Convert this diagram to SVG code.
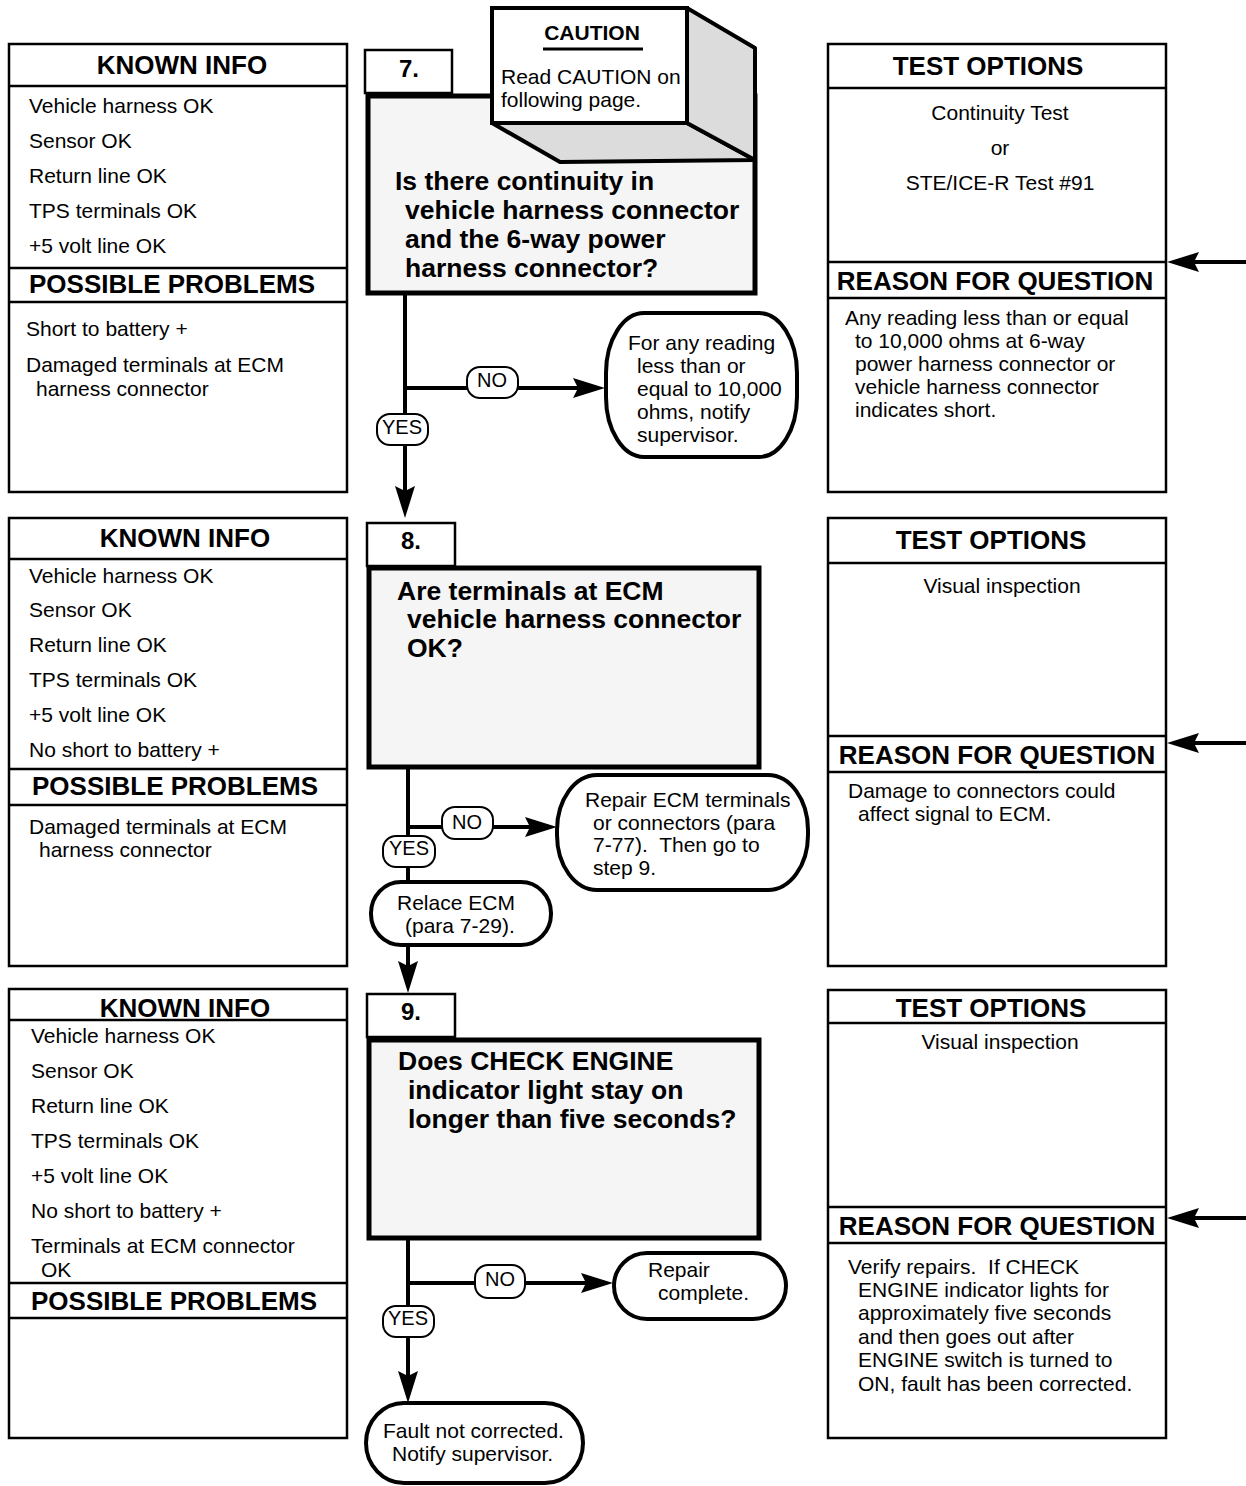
<svg xmlns="http://www.w3.org/2000/svg" width="1246" height="1486" viewBox="0 0 1246 1486">
<style>
.box{fill:#fff;stroke:#000;stroke-width:2.5}
.div{stroke:#000;stroke-width:2.5}
.qbox{fill:#f5f5f5;stroke:#000;stroke-width:5}
.num{fill:#fff;stroke:#000;stroke-width:2.5}
.term{fill:#fff;stroke:#000;stroke-width:4}
.lbl{fill:#fff;stroke:#000;stroke-width:2}
.conn{fill:none;stroke:#000;stroke-width:4}
.side{fill:#dcdcdc;stroke:#000;stroke-width:4;stroke-linejoin:round}
text{font-family:"Liberation Sans",Arial,Helvetica,sans-serif;font-size:21px;fill:#000}
.h{font-weight:bold;font-size:26px}
.q{font-weight:bold;font-size:26.5px}
.n{font-weight:bold;font-size:24px}
.c{text-anchor:middle}
.l{font-size:20px}
</style>
<defs>
<marker id="ah" viewBox="0 0 32 20" refX="22" refY="10" markerWidth="32" markerHeight="20" markerUnits="userSpaceOnUse" orient="auto">
<path d="M0,0 L32,10 L0,20 L5,10 z" fill="#000"/>
</marker>
</defs>

<!-- ===== Section 7 ===== -->
<g id="known7">
<rect class="box" x="9" y="44" width="338" height="448"/>
<line class="div" x1="9" y1="86" x2="347" y2="86"/>
<line class="div" x1="9" y1="268" x2="347" y2="268"/>
<line class="div" x1="9" y1="302" x2="347" y2="302"/>
<text class="h c" x="182" y="74">KNOWN INFO</text>
<text x="29" y="113">Vehicle harness OK</text>
<text x="29" y="148">Sensor OK</text>
<text x="29" y="183">Return line OK</text>
<text x="29" y="218">TPS terminals OK</text>
<text x="29" y="253">+5 volt line OK</text>
<text class="h" x="29" y="293">POSSIBLE PROBLEMS</text>
<text x="26" y="336">Short to battery +</text>
<text x="26" y="372">Damaged terminals at ECM</text>
<text x="36" y="396">harness connector</text>
</g>

<g id="step7">
<rect class="num" x="365" y="50" width="87" height="43"/>
<text class="n c" x="409" y="77">7.</text>
<rect class="qbox" x="368" y="96" width="387" height="197"/>
<text class="q" x="395" y="190">Is there continuity in</text>
<text class="q" x="405" y="219">vehicle harness connector</text>
<text class="q" x="405" y="248">and the 6-way power</text>
<text class="q" x="405" y="277">harness connector?</text>
</g>

<g id="caution">
<polygon class="side" points="492,123 560,162 755,160 687,123"/>
<polygon class="side" points="687,8 755,48 755,160 687,123"/>
<rect x="492" y="8" width="195" height="115" fill="#fff" stroke="#000" stroke-width="4"/>
<text class="c" x="592" y="40" style="font-weight:bold;font-size:21px">CAUTION</text>
<line x1="543" y1="49" x2="643" y2="49" stroke="#000" stroke-width="3"/>
<text x="501" y="84">Read CAUTION on</text>
<text x="501" y="107">following page.</text>
</g>

<g id="test7">
<rect class="box" x="828" y="44" width="338" height="448"/>
<line class="div" x1="828" y1="88" x2="1166" y2="88"/>
<line class="div" x1="828" y1="262" x2="1166" y2="262"/>
<line class="div" x1="828" y1="298" x2="1166" y2="298"/>
<text class="h c" x="988" y="75">TEST OPTIONS</text>
<text class="c" x="1000" y="120">Continuity Test</text>
<text class="c" x="1000" y="155">or</text>
<text class="c" x="1000" y="190">STE/ICE-R Test #91</text>
<text class="h c" x="995" y="290">REASON FOR QUESTION</text>
<text x="845" y="325">Any reading less than or equal</text>
<text x="855" y="348">to 10,000 ohms at 6-way</text>
<text x="855" y="371">power harness connector or</text>
<text x="855" y="394">vehicle harness connector</text>
<text x="855" y="417">indicates short.</text>
</g>

<g id="term7">
<rect class="term" x="606" y="313" width="191" height="144" rx="38" ry="60"/>
<text x="628" y="350">For any reading</text>
<text x="637" y="373">less than or</text>
<text x="637" y="396">equal to 10,000</text>
<text x="637" y="419">ohms, notify</text>
<text x="637" y="442">supervisor.</text>
</g>

<!-- ===== Section 8 ===== -->
<g id="known8">
<rect class="box" x="9" y="518" width="338" height="448"/>
<line class="div" x1="9" y1="559" x2="347" y2="559"/>
<line class="div" x1="9" y1="769" x2="347" y2="769"/>
<line class="div" x1="9" y1="805" x2="347" y2="805"/>
<text class="h c" x="185" y="547">KNOWN INFO</text>
<text x="29" y="583">Vehicle harness OK</text>
<text x="29" y="617">Sensor OK</text>
<text x="29" y="652">Return line OK</text>
<text x="29" y="687">TPS terminals OK</text>
<text x="29" y="722">+5 volt line OK</text>
<text x="29" y="757">No short to battery +</text>
<text class="h" x="32" y="795">POSSIBLE PROBLEMS</text>
<text x="29" y="834">Damaged terminals at ECM</text>
<text x="39" y="857">harness connector</text>
</g>

<g id="step8">
<rect class="num" x="367" y="523" width="88" height="43"/>
<text class="n c" x="411" y="549">8.</text>
<rect class="qbox" x="369" y="568" width="390" height="199"/>
<text class="q" x="397" y="600">Are terminals at ECM</text>
<text class="q" x="407" y="628">vehicle harness connector</text>
<text class="q" x="407" y="657">OK?</text>
</g>

<g id="test8">
<rect class="box" x="828" y="518" width="338" height="448"/>
<line class="div" x1="828" y1="563" x2="1166" y2="563"/>
<line class="div" x1="828" y1="736" x2="1166" y2="736"/>
<line class="div" x1="828" y1="772" x2="1166" y2="772"/>
<text class="h c" x="991" y="549">TEST OPTIONS</text>
<text class="c" x="1002" y="593">Visual inspection</text>
<text class="h c" x="997" y="764">REASON FOR QUESTION</text>
<text x="848" y="798">Damage to connectors could</text>
<text x="858" y="821">affect signal to ECM.</text>
</g>

<g id="term8a">
<rect class="term" x="557" y="775" width="251" height="115" rx="40" ry="55"/>
<text x="585" y="807">Repair ECM terminals</text>
<text x="593" y="830">or connectors (para</text>
<text x="593" y="852">7-77).&#160; Then go to</text>
<text x="593" y="875">step 9.</text>
</g>

<g id="term8b">
<rect class="term" x="371" y="882" width="180" height="63" rx="30" ry="31"/>
<text x="397" y="910">Relace ECM</text>
<text x="405" y="933">(para 7-29).</text>
</g>

<!-- ===== Section 9 ===== -->
<g id="known9">
<rect class="box" x="9" y="989" width="338" height="449"/>
<line class="div" x1="9" y1="1020" x2="347" y2="1020"/>
<line class="div" x1="9" y1="1283" x2="347" y2="1283"/>
<line class="div" x1="9" y1="1318" x2="347" y2="1318"/>
<text class="h c" x="185" y="1017">KNOWN INFO</text>
<text x="31" y="1043">Vehicle harness OK</text>
<text x="31" y="1078">Sensor OK</text>
<text x="31" y="1113">Return line OK</text>
<text x="31" y="1148">TPS terminals OK</text>
<text x="31" y="1183">+5 volt line OK</text>
<text x="31" y="1218">No short to battery +</text>
<text x="31" y="1253">Terminals at ECM connector</text>
<text x="41" y="1277">OK</text>
<text class="h" x="31" y="1310">POSSIBLE PROBLEMS</text>
</g>

<g id="step9">
<rect class="num" x="367" y="994" width="88" height="43"/>
<text class="n c" x="411" y="1020">9.</text>
<rect class="qbox" x="369" y="1040" width="390" height="198"/>
<text class="q" x="398" y="1070">Does CHECK ENGINE</text>
<text class="q" x="408" y="1099">indicator light stay on</text>
<text class="q" x="408" y="1128">longer than five seconds?</text>
</g>

<g id="test9">
<rect class="box" x="828" y="990" width="338" height="448"/>
<line class="div" x1="828" y1="1023" x2="1166" y2="1023"/>
<line class="div" x1="828" y1="1207" x2="1166" y2="1207"/>
<line class="div" x1="828" y1="1243" x2="1166" y2="1243"/>
<text class="h c" x="991" y="1017">TEST OPTIONS</text>
<text class="c" x="1000" y="1049">Visual inspection</text>
<text class="h c" x="997" y="1235">REASON FOR QUESTION</text>
<text x="848" y="1274">Verify repairs.&#160; If CHECK</text>
<text x="858" y="1297">ENGINE indicator lights for</text>
<text x="858" y="1320">approximately five seconds</text>
<text x="858" y="1344">and then goes out after</text>
<text x="858" y="1367">ENGINE switch is turned to</text>
<text x="858" y="1391">ON, fault has been corrected.</text>
</g>

<g id="term9a">
<rect class="term" x="614" y="1253" width="172" height="66" rx="33" ry="33"/>
<text x="648" y="1277">Repair</text>
<text x="658" y="1300">complete.</text>
</g>

<g id="term9b">
<rect class="term" x="366" y="1403" width="217" height="80" rx="38" ry="40"/>
<text x="383" y="1438">Fault not corrected.</text>
<text x="392" y="1461">Notify supervisor.</text>
</g>

<!-- ===== Connectors ===== -->
<g id="connectors">
<line class="conn" x1="405" y1="293" x2="405" y2="508" marker-end="url(#ah)"/>
<line class="conn" x1="405" y1="388" x2="595" y2="388" marker-end="url(#ah)"/>
<line class="conn" x1="408" y1="767" x2="408" y2="882"/>
<line class="conn" x1="408" y1="827" x2="547" y2="827" marker-end="url(#ah)"/>
<line class="conn" x1="408" y1="945" x2="408" y2="983" marker-end="url(#ah)"/>
<line class="conn" x1="408" y1="1238" x2="408" y2="1393" marker-end="url(#ah)"/>
<line class="conn" x1="408" y1="1283" x2="603" y2="1283" marker-end="url(#ah)"/>
<line class="conn" x1="1246" y1="262" x2="1177" y2="262" marker-end="url(#ah)"/>
<line class="conn" x1="1246" y1="743" x2="1177" y2="743" marker-end="url(#ah)"/>
<line class="conn" x1="1246" y1="1218" x2="1177" y2="1218" marker-end="url(#ah)"/>
<g id="lbl7no"><rect class="lbl" x="467" y="367" width="51" height="31" rx="13"/><text class="l c" x="492" y="387">NO</text></g>
<g id="lbl7yes"><rect class="lbl" x="377" y="414" width="51" height="31" rx="13"/><text class="l c" x="402" y="434">YES</text></g>
<g id="lbl8no"><rect class="lbl" x="442" y="807" width="51" height="32" rx="13"/><text class="l c" x="467" y="829">NO</text></g>
<g id="lbl8yes"><rect class="lbl" x="383" y="836" width="52" height="31" rx="13"/><text class="l c" x="409" y="855">YES</text></g>
<g id="lbl9no"><rect class="lbl" x="475" y="1265" width="50" height="33" rx="13"/><text class="l c" x="500" y="1286">NO</text></g>
<g id="lbl9yes"><rect class="lbl" x="383" y="1306" width="51" height="31" rx="13"/><text class="l c" x="408" y="1325">YES</text></g>
</g>
</svg>
